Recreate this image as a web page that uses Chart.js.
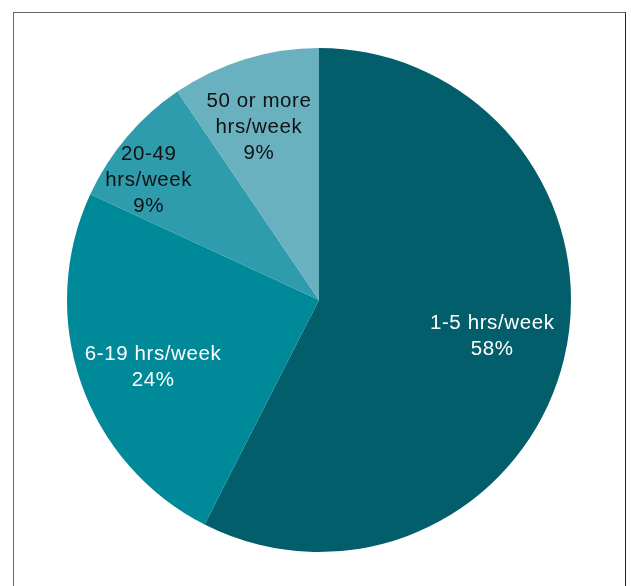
<!DOCTYPE html>
<html>
<head>
<meta charset="utf-8">
<script src="https://cdn.jsdelivr.net/npm/chart.js@4.4.1/dist/chart.umd.min.js"></script>
<style>
  html, body { margin: 0; padding: 0; background: #ffffff; }
  #wrap { position: relative; width: 631px; height: 586px; overflow: hidden; }
  #frame { position: absolute; left: 13px; top: 12px; width: 611px; height: 620px;
           border-left: 1.6px solid #666666; border-top: 1.6px solid #666666; border-right: 1.6px solid #222222; }
  canvas { position: absolute; left: 0; top: 0; }
</style>
</head>
<body>
<div id="wrap">
  <div id="frame"></div>
  <canvas id="c" width="631" height="586"></canvas>
</div>
<script>
const categories = ['1-5 hrs/week', '6-19 hrs/week', '20-49 hrs/week', '50 or more hrs/week'];
const shares = [57.5, 24.4, 8.6, 9.5];
const percentLabels = ['58%', '24%', '9%', '9%'];
const labelLines = [['1-5 hrs/week'], ['6-19 hrs/week'], ['20-49', 'hrs/week'], ['50 or more', 'hrs/week']];
const sliceColors = ['#035e6c', '#008998', '#2e9cad', '#6ab1c0'];
const textColors = ['#ffffff', '#ffffff', '#111111', '#111111'];

// label placement: fraction along the arc, fraction of outer radius
const labelArcFrac = [0.49, 0.47, 0.34, 0.44];
const labelRadFrac = [0.70, 0.71, 0.83, 0.73];

const sliceLabels = {
  id: 'sliceLabels',
  afterDatasetsDraw(chart) {
    const ctx = chart.ctx;
    const meta = chart.getDatasetMeta(0);
    ctx.save();
    ctx.font = '20.5px "Liberation Sans", Arial, sans-serif';
    ctx.letterSpacing = '0.6px';
    ctx.textAlign = 'center';
    ctx.textBaseline = 'middle';
    const lh = 26;
    meta.data.forEach((arc, i) => {
      const p = arc.getProps(['x', 'y', 'startAngle', 'endAngle', 'outerRadius'], true);
      const a = p.startAngle + labelArcFrac[i] * (p.endAngle - p.startAngle);
      const r = p.outerRadius * labelRadFrac[i];
      const cx = p.x + Math.cos(a) * r;
      const cy = p.y + Math.sin(a) * r;
      const lines = labelLines[i].concat([percentLabels[i]]);
      const y0 = cy - (lines.length - 1) * lh / 2 + 1;
      ctx.fillStyle = textColors[i];
      lines.forEach((t, k) => ctx.fillText(t, cx + 0.3, y0 + k * lh));
    });
    ctx.restore();
  }
};

new Chart(document.getElementById('c'), {
  type: 'pie',
  data: {
    labels: categories,
    datasets: [{
      data: shares,
      backgroundColor: sliceColors,
      borderWidth: 0
    }]
  },
  options: {
    responsive: false,
    animation: false,
    layout: { padding: { left: 67, right: 60, top: 48, bottom: 34 } },
    plugins: { legend: { display: false }, tooltip: { enabled: false } }
  },
  plugins: [sliceLabels]
});
</script>
</body>
</html>
